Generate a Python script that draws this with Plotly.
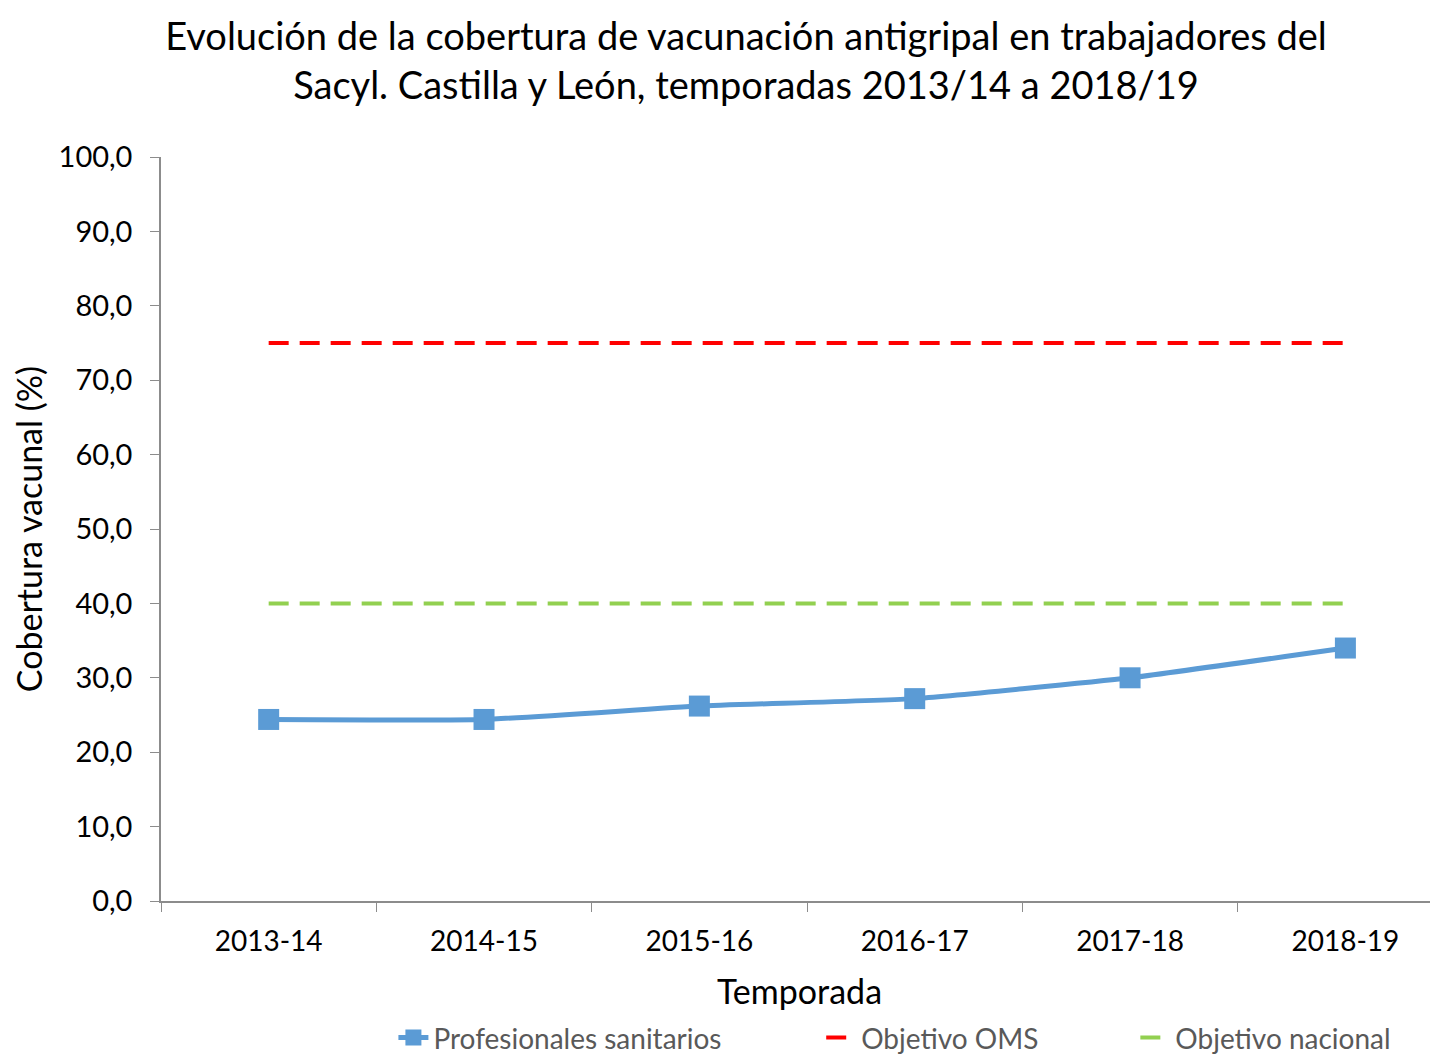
import plotly.graph_objects as go

temporadas = ["2013-14", "2014-15", "2015-16", "2016-17", "2017-18", "2018-19"]
profesionales = [24.4, 24.4, 26.2, 27.2, 30.0, 34.0]
objetivo_oms = [75, 75, 75, 75, 75, 75]
objetivo_nacional = [40, 40, 40, 40, 40, 40]

FONT = "Lato, sans-serif"
W, H = 1430, 1046

fig = go.Figure()
fig.add_trace(go.Scatter(
    x=temporadas, y=profesionales, name="Profesionales sanitarios",
    mode="lines+markers",
    line=dict(color="#5B9BD5", width=5, shape="spline", smoothing=0.4),
    marker=dict(symbol="square", size=21, color="#5B9BD5"),
    legend="legend",
))
fig.add_trace(go.Scatter(
    x=temporadas, y=objetivo_oms, name="Objetivo OMS", mode="lines",
    line=dict(color="#FF0000", width=4, dash="20px,11px"),
    legend="legend2",
))
fig.add_trace(go.Scatter(
    x=temporadas, y=objetivo_nacional, name="Objetivo nacional", mode="lines",
    line=dict(color="#92D050", width=4, dash="20px,11px"),
    legend="legend3",
))

leg_common = dict(
    orientation="h", xanchor="left", y=-0.184, yanchor="middle",
    font=dict(size=28, color="#595959", family=FONT),
    bgcolor="rgba(0,0,0,0)",
)

fig.update_layout(
    width=W, height=H,
    margin=dict(l=153, r=0, t=149, b=153, autoexpand=False),
    paper_bgcolor="white", plot_bgcolor="white",
    font=dict(family=FONT, color="#000000"),
    title=dict(
        text="Evolución de la cobertura de vacunación antigripal en trabajadores del<br>Sacyl. Castilla y León, temporadas 2013/14 a 2018/19",
        x=738 / W, xanchor="center", yref="container", y=1 - 42 / H, yanchor="middle",
        font=dict(size=38, color="#000000", family=FONT),
    ),
    separators=",.",
    showlegend=True,
    legend=dict(x=0.182, **leg_common),
    legend2=dict(x=0.517, **leg_common),
    legend3=dict(x=0.763, **leg_common),
    xaxis=dict(
        type="category", range=[-0.5, 5.43], automargin=False,
        tickson="boundaries", ticks="outside", ticklen=9, tickcolor="#8C8C8C",
        showline=True, linecolor="#8C8C8C", linewidth=1.5,
        showgrid=False, zeroline=False,
        tickfont=dict(size=28, color="#000000"),
        ticklabelstandoff=15,
        title=dict(text="Temporada", font=dict(size=34, color="#000000"), standoff=24),
    ),
    yaxis=dict(
        range=[0, 100], dtick=10, tickformat=".1f", automargin=False,
        ticks="outside", ticklen=9, tickcolor="#8C8C8C",
        showline=True, linecolor="#8C8C8C", linewidth=1.5,
        showgrid=False, zeroline=False,
        tickfont=dict(size=29, color="#000000"),
        ticklabelstandoff=12,
        title=dict(text="Cobertura vacunal (%)", font=dict(size=34, color="#000000"), standoff=12),
    ),
)

fig.write_html("out.html")
